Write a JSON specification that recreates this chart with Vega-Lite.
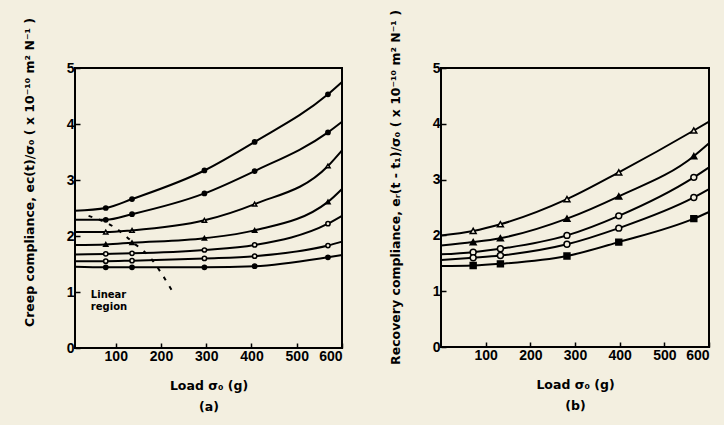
{
  "$schema": "https://vega.github.io/schema/vega-lite/v6.json",
  "background": "#f3efe0",
  "padding": {"left": 22, "top": 8, "right": 10, "bottom": 15},
  "spacing": 41,
  "config": {
    "view": {"stroke": "black", "strokeWidth": 2},
    "axis": {
      "domain": false, "grid": false, "ticks": true, "tickColor": "black", "tickSize": -5, "tickWidth": 1.5,
      "labelFont": "Liberation Sans", "labelFontWeight": "bold", "labelFontSize": 14, "labelColor": "black", "labelPadding": 6,
      "titleFont": "DejaVu Sans", "titleFontWeight": "bold", "titleFontSize": 12.5, "titleColor": "black", "titleLineHeight": 21
    }
  },
  "datasets": {
    "creep": [
      {"series": "c1", "load": 10, "value": 2.45, "measured": false},
      {"series": "c1", "load": 78, "value": 2.5, "measured": true},
      {"series": "c1", "load": 136, "value": 2.66, "measured": true},
      {"series": "c1", "load": 296, "value": 3.17, "measured": true},
      {"series": "c1", "load": 407, "value": 3.68, "measured": true},
      {"series": "c1", "load": 569, "value": 4.53, "measured": true},
      {"series": "c1", "load": 600, "value": 4.75, "measured": false},
      {"series": "c2", "load": 10, "value": 2.29, "measured": false},
      {"series": "c2", "load": 78, "value": 2.29, "measured": true},
      {"series": "c2", "load": 136, "value": 2.39, "measured": true},
      {"series": "c2", "load": 296, "value": 2.76, "measured": true},
      {"series": "c2", "load": 407, "value": 3.16, "measured": true},
      {"series": "c2", "load": 569, "value": 3.85, "measured": true},
      {"series": "c2", "load": 600, "value": 4.04, "measured": false},
      {"series": "c3", "load": 10, "value": 2.07, "measured": false},
      {"series": "c3", "load": 78, "value": 2.07, "measured": true},
      {"series": "c3", "load": 136, "value": 2.1, "measured": true},
      {"series": "c3", "load": 296, "value": 2.28, "measured": true},
      {"series": "c3", "load": 407, "value": 2.57, "measured": true},
      {"series": "c3", "load": 569, "value": 3.25, "measured": true},
      {"series": "c3", "load": 600, "value": 3.53, "measured": false},
      {"series": "c4", "load": 10, "value": 1.84, "measured": false},
      {"series": "c4", "load": 78, "value": 1.85, "measured": true},
      {"series": "c4", "load": 136, "value": 1.88, "measured": true},
      {"series": "c4", "load": 296, "value": 1.96, "measured": true},
      {"series": "c4", "load": 407, "value": 2.1, "measured": true},
      {"series": "c4", "load": 569, "value": 2.61, "measured": true},
      {"series": "c4", "load": 600, "value": 2.84, "measured": false},
      {"series": "c5", "load": 10, "value": 1.67, "measured": false},
      {"series": "c5", "load": 78, "value": 1.68, "measured": true},
      {"series": "c5", "load": 136, "value": 1.69, "measured": true},
      {"series": "c5", "load": 296, "value": 1.75, "measured": true},
      {"series": "c5", "load": 407, "value": 1.84, "measured": true},
      {"series": "c5", "load": 569, "value": 2.22, "measured": true},
      {"series": "c5", "load": 600, "value": 2.36, "measured": false},
      {"series": "c6", "load": 10, "value": 1.55, "measured": false},
      {"series": "c6", "load": 78, "value": 1.55, "measured": true},
      {"series": "c6", "load": 136, "value": 1.56, "measured": true},
      {"series": "c6", "load": 296, "value": 1.6, "measured": true},
      {"series": "c6", "load": 407, "value": 1.64, "measured": true},
      {"series": "c6", "load": 569, "value": 1.83, "measured": true},
      {"series": "c6", "load": 600, "value": 1.9, "measured": false},
      {"series": "c7", "load": 10, "value": 1.45, "measured": false},
      {"series": "c7", "load": 78, "value": 1.44, "measured": true},
      {"series": "c7", "load": 136, "value": 1.44, "measured": true},
      {"series": "c7", "load": 296, "value": 1.44, "measured": true},
      {"series": "c7", "load": 407, "value": 1.46, "measured": true},
      {"series": "c7", "load": 569, "value": 1.62, "measured": true},
      {"series": "c7", "load": 600, "value": 1.66, "measured": false}
    ],
    "linearBoundary": [
      {"load": 40, "value": 2.36},
      {"load": 100, "value": 2.14},
      {"load": 136, "value": 1.9},
      {"load": 180, "value": 1.58},
      {"load": 202, "value": 1.32},
      {"load": 229, "value": 0.96}
    ],
    "notes": [
      {"load": 45, "value": 0.95, "label": "Linear"},
      {"load": 45, "value": 0.73, "label": "region"}
    ],
    "recovery": [
      {"series": "r1", "load": 0, "value": 2.0, "measured": false},
      {"series": "r1", "load": 72, "value": 2.08, "measured": true},
      {"series": "r1", "load": 133, "value": 2.2, "measured": true},
      {"series": "r1", "load": 282, "value": 2.65, "measured": true},
      {"series": "r1", "load": 398, "value": 3.13, "measured": true},
      {"series": "r1", "load": 566, "value": 3.88, "measured": true},
      {"series": "r1", "load": 600, "value": 4.04, "measured": false},
      {"series": "r2", "load": 0, "value": 1.82, "measured": false},
      {"series": "r2", "load": 72, "value": 1.88, "measured": true},
      {"series": "r2", "load": 133, "value": 1.95, "measured": true},
      {"series": "r2", "load": 282, "value": 2.3, "measured": true},
      {"series": "r2", "load": 398, "value": 2.7, "measured": true},
      {"series": "r2", "load": 566, "value": 3.42, "measured": true},
      {"series": "r2", "load": 600, "value": 3.65, "measured": false},
      {"series": "r3", "load": 0, "value": 1.66, "measured": false},
      {"series": "r3", "load": 72, "value": 1.7, "measured": true},
      {"series": "r3", "load": 133, "value": 1.76, "measured": true},
      {"series": "r3", "load": 282, "value": 2.0, "measured": true},
      {"series": "r3", "load": 398, "value": 2.35, "measured": true},
      {"series": "r3", "load": 566, "value": 3.04, "measured": true},
      {"series": "r3", "load": 600, "value": 3.22, "measured": false},
      {"series": "r4", "load": 0, "value": 1.56, "measured": false},
      {"series": "r4", "load": 72, "value": 1.6, "measured": true},
      {"series": "r4", "load": 133, "value": 1.64, "measured": true},
      {"series": "r4", "load": 282, "value": 1.84, "measured": true},
      {"series": "r4", "load": 398, "value": 2.13, "measured": true},
      {"series": "r4", "load": 566, "value": 2.68, "measured": true},
      {"series": "r4", "load": 600, "value": 2.83, "measured": false},
      {"series": "r5", "load": 0, "value": 1.45, "measured": false},
      {"series": "r5", "load": 72, "value": 1.46, "measured": true},
      {"series": "r5", "load": 133, "value": 1.49, "measured": true},
      {"series": "r5", "load": 282, "value": 1.63, "measured": true},
      {"series": "r5", "load": 398, "value": 1.88, "measured": true},
      {"series": "r5", "load": 566, "value": 2.3, "measured": true},
      {"series": "r5", "load": 600, "value": 2.42, "measured": false}
    ]
  },
  "resolve": {"scale": {"x": "independent", "y": "independent", "shape": "independent", "fill": "independent", "size": "independent"}},
  "hconcat": [
    {
      "width": 267,
      "height": 280,
      "layer": [
        {
          "data": {"name": "creep"},
          "mark": {"type": "line", "interpolate": "monotone", "color": "black", "strokeWidth": 2},
          "encoding": {
            "x": {"field": "load", "type": "quantitative", "scale": {"domain": [10, 600], "nice": false},
                  "axis": {"values": [100, 200, 300, 400, 500, 600], "title": ["Load σ₀ (g)", "(a)"], "titlePadding": 16}},
            "y": {"field": "value", "type": "quantitative", "scale": {"domain": [0, 5], "nice": false},
                  "axis": {"values": [0, 1, 2, 3, 4, 5], "title": "Creep compliance, eᴄ(t)/σ₀ ( x 10⁻¹⁰ m² N⁻¹ )", "titlePadding": 30, "titleY": 104}},
            "detail": {"field": "series"}
          }
        },
        {
          "data": {"name": "creep"},
          "transform": [{"filter": "datum.measured"}],
          "mark": {"type": "point", "filled": true, "stroke": "black", "strokeWidth": 1.5, "opacity": 1},
          "encoding": {
            "x": {"field": "load", "type": "quantitative"},
            "y": {"field": "value", "type": "quantitative"},
            "shape": {"field": "series", "legend": null, "scale": {"domain": ["c1", "c2", "c3", "c4", "c5", "c6", "c7"], "range": ["circle", "circle", "triangle-up", "triangle-up", "circle", "circle", "circle"]}},
            "fill": {"field": "series", "legend": null, "scale": {"domain": ["c1", "c2", "c3", "c4", "c5", "c6", "c7"], "range": ["black", "black", "#f3efe0", "black", "#f3efe0", "#f3efe0", "black"]}},
            "size": {"field": "series", "type": "nominal", "legend": null, "scale": {"domain": ["c1", "c2", "c3", "c4", "c5", "c6", "c7"], "range": [18, 18, 35, 35, 90, 40, 70]}}
          }
        },
        {
          "data": {"name": "linearBoundary"},
          "mark": {"type": "line", "interpolate": "monotone", "color": "black", "strokeWidth": 2, "strokeDash": [4, 7]},
          "encoding": {
            "x": {"field": "load", "type": "quantitative"},
            "y": {"field": "value", "type": "quantitative"}
          }
        },
        {
          "data": {"name": "notes"},
          "mark": {"type": "text", "align": "left", "font": "DejaVu Sans", "fontWeight": "bold", "fontSize": 10, "color": "black"},
          "encoding": {
            "x": {"field": "load", "type": "quantitative"},
            "y": {"field": "value", "type": "quantitative"},
            "text": {"field": "label"}
          }
        }
      ]
    },
    {
      "width": 268,
      "height": 279,
      "layer": [
        {
          "data": {"name": "recovery"},
          "mark": {"type": "line", "interpolate": "monotone", "color": "black", "strokeWidth": 2},
          "encoding": {
            "x": {"field": "load", "type": "quantitative", "scale": {"domain": [0, 600], "nice": false},
                  "axis": {"values": [100, 200, 300, 400, 500, 600], "title": ["Load σ₀ (g)", "(b)"], "titlePadding": 16}},
            "y": {"field": "value", "type": "quantitative", "scale": {"domain": [0, 5], "nice": false},
                  "axis": {"values": [0, 1, 2, 3, 4, 5], "title": "Recovery compliance, eᵣ(t - t₁)/σ₀ ( x 10⁻¹⁰ m² N⁻¹ )", "titlePadding": 30, "titleY": 119}},
            "detail": {"field": "series"}
          }
        },
        {
          "data": {"name": "recovery"},
          "transform": [{"filter": "datum.measured"}],
          "mark": {"type": "point", "filled": true, "stroke": "black", "strokeWidth": 1.5, "opacity": 1},
          "encoding": {
            "x": {"field": "load", "type": "quantitative"},
            "y": {"field": "value", "type": "quantitative"},
            "shape": {"field": "series", "legend": null, "scale": {"domain": ["r1", "r2", "r3", "r4", "r5"], "range": ["triangle-up", "triangle-up", "circle", "circle", "square"]}},
            "fill": {"field": "series", "legend": null, "scale": {"domain": ["r1", "r2", "r3", "r4", "r5"], "range": ["#f3efe0", "black", "#f3efe0", "#f3efe0", "black"]}},
            "size": {"field": "series", "type": "nominal", "legend": null, "scale": {"domain": ["r1", "r2", "r3", "r4", "r5"], "range": [35, 35, 90, 40, 55]}}
          }
        }
      ]
    }
  ]
}
